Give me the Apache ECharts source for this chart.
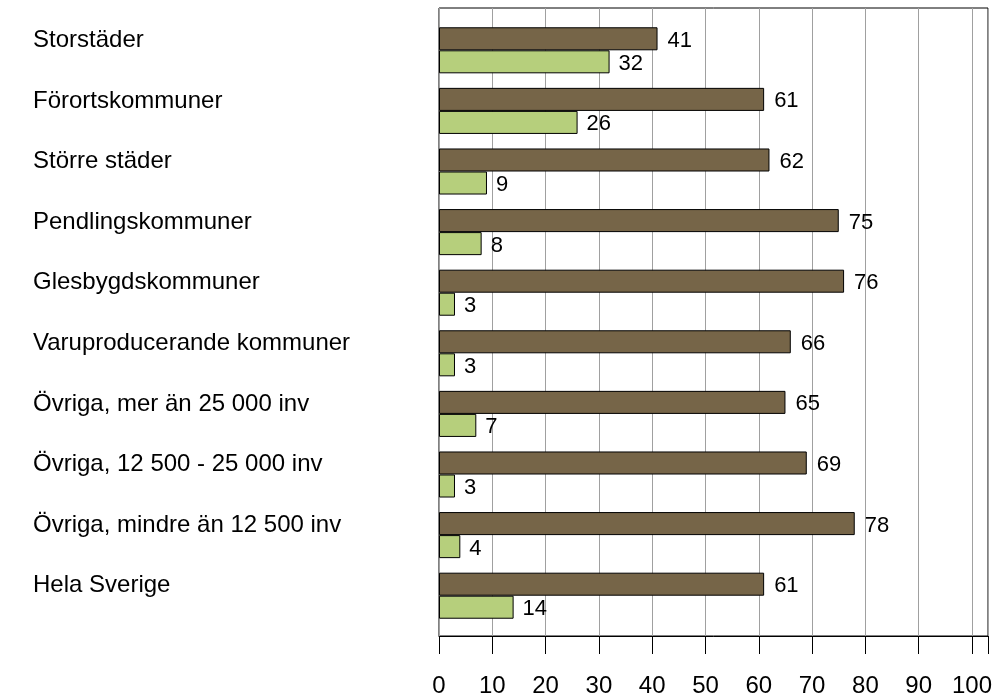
<!DOCTYPE html>
<html>
<head>
<meta charset="utf-8">
<script src="https://cdn.jsdelivr.net/npm/echarts@6/dist/echarts.min.js"></script>
<style>
  html, body { margin: 0; padding: 0; background: #fff; }
  #chart { width: 1000px; height: 699px; }
</style>
</head>
<body>
<div id="chart"></div>
<script>
const categories = [
  'Storstäder',
  'Förortskommuner',
  'Större städer',
  'Pendlingskommuner',
  'Glesbygdskommuner',
  'Varuproducerande kommuner',
  'Övriga, mer än 25 000 inv',
  'Övriga, 12 500 - 25 000 inv',
  'Övriga, mindre än 12 500 inv',
  'Hela Sverige'
]
const brownValues = [41, 61, 62, 75, 76, 66, 65, 69, 78, 61]
const greenValues = [32, 26, 9, 8, 3, 3, 7, 3, 4, 14]

const font = 'Liberation Sans, Arial, sans-serif'
const xMax = 103

const chart = echarts.init(document.getElementById('chart'))
chart.setOption({
  animation: false,
  grid: [
    // frame, gridlines and value axis
    { left: 439, right: 12, top: 8, bottom: 63, show: true, borderColor: '#000', borderWidth: 1, containLabel: false },
    // bars
    { left: 439, right: 12, top: 20, bottom: 73, containLabel: false }
  ],
  xAxis: [
    {
      gridIndex: 0,
      type: 'value',
      min: 0,
      max: xMax,
      interval: 10,
      axisLine: { show: true, lineStyle: { color: '#000', width: 1 } },
      axisTick: { show: true, length: 18, lineStyle: { color: '#000' } },
      splitLine: { show: true, lineStyle: { color: '#a0a0a0', width: 1 } },
      axisLabel: {
        margin: 38,
        fontSize: 24,
        fontFamily: font,
        color: '#000',
        formatter: v => (v > 100 ? '' : v)
      }
    },
    {
      gridIndex: 1,
      type: 'value',
      min: 0,
      max: xMax,
      show: false
    }
  ],
  yAxis: [
    { gridIndex: 0, type: 'value', show: false },
    {
      gridIndex: 1,
      type: 'category',
      inverse: true,
      data: categories,
      axisLine: { show: false },
      axisTick: { show: false },
      axisLabel: {
        align: 'left',
        verticalAlign: 'bottom',
        lineHeight: 20,
        margin: 406,
        fontSize: 24,
        fontFamily: font,
        color: '#000'
      }
    }
  ],
  series: [
    {
      type: 'bar',
      xAxisIndex: 1,
      yAxisIndex: 1,
      data: brownValues,
      barGap: '0%',
      barCategoryGap: '24%',
      itemStyle: { color: '#766548', borderColor: '#000', borderWidth: 1 },
      label: { show: true, position: 'right', distance: 10, offset: [0, 2], fontSize: 22, fontFamily: font, color: '#000' }
    },
    {
      type: 'bar',
      xAxisIndex: 1,
      yAxisIndex: 1,
      data: greenValues,
      barGap: '0%',
      barCategoryGap: '24%',
      itemStyle: { color: '#b6cf7c', borderColor: '#000', borderWidth: 1 },
      label: { show: true, position: 'right', distance: 9, offset: [0, 2], fontSize: 22, fontFamily: font, color: '#000' }
    }
  ]
})
</script>
</body>
</html>
